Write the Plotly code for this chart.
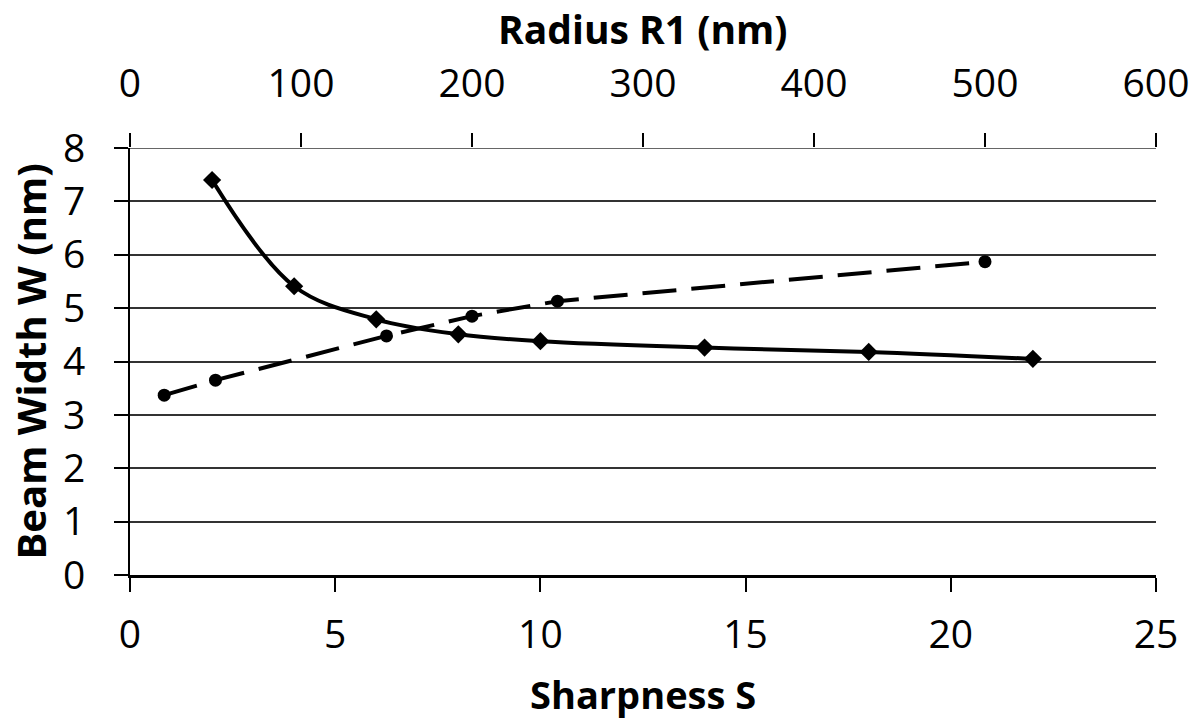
import plotly.graph_objects as go

# Data
sharpness = [2, 4, 6, 8, 10, 14, 18, 22]
width_vs_sharpness = [7.40, 5.41, 4.79, 4.51, 4.38, 4.26, 4.18, 4.05]

radius = [20, 50, 150, 200, 250, 500]
width_vs_radius = [3.37, 3.65, 4.48, 4.85, 5.13, 5.87]

x_ticks = [0, 5, 10, 15, 20, 25]
x2_ticks = [0, 100, 200, 300, 400, 500, 600]
y_ticks = [0, 1, 2, 3, 4, 5, 6, 7, 8]

FONT = "Open Sans, Liberation Sans, sans-serif"

fig = go.Figure()
fig.add_trace(go.Scatter(
    x=sharpness, y=width_vs_sharpness, mode="lines+markers",
    line=dict(color="black", width=4, shape="spline", smoothing=1.0),
    marker=dict(symbol="diamond", size=14, color="black"),
    xaxis="x", yaxis="y", showlegend=False))
fig.add_trace(go.Scatter(
    x=radius, y=width_vs_radius, mode="lines+markers",
    line=dict(color="black", width=4, dash="34px,15px"),
    marker=dict(symbol="circle", size=13, color="black"),
    xaxis="x2", yaxis="y", showlegend=False))

tickfont = dict(family=FONT, size=39, color="black")
fig.update_layout(
    width=1203, height=722,
    margin=dict(l=130, r=47, t=148, b=147),
    paper_bgcolor="white", plot_bgcolor="white",
    xaxis=dict(range=[0, 25], tickvals=x_ticks, ticks="outside", ticklen=14,
               tickwidth=1.5, tickcolor="black", showgrid=False, zeroline=False,
               showline=True, linecolor="black", linewidth=2.5,
               tickfont=tickfont, ticklabelstandoff=9),
    xaxis2=dict(range=[0, 600], tickvals=x2_ticks, overlaying="x", side="top",
                ticks="outside", ticklen=14, tickwidth=1.5, tickcolor="black",
                showgrid=False, zeroline=False, showline=False,
                tickfont=tickfont, ticklabelstandoff=20),
    yaxis=dict(range=[0, 8], tickvals=y_ticks, ticks="outside", ticklen=14,
               tickwidth=1.5, tickcolor="black", showgrid=True,
               gridcolor="#333333", gridwidth=1.5, zeroline=False,
               showline=True, linecolor="black", linewidth=2,
               tickfont=tickfont, ticklabelstandoff=21),
    annotations=[
        dict(text="<b>Radius R1 (nm)</b>", xref="paper", yref="paper",
             x=0.5, y=1, yshift=120, yanchor="middle", xanchor="center",
             showarrow=False, font=dict(family=FONT, size=39, color="black")),
        dict(text="<b>Sharpness S</b>", xref="paper", yref="paper",
             x=0.5, y=0, yshift=-119, yanchor="middle", xanchor="center",
             showarrow=False, font=dict(family=FONT, size=38, color="black")),
        dict(text="<b>Beam Width W (nm)</b>", xref="paper", yref="paper",
             x=0, xshift=-100, y=0.5, yanchor="middle", xanchor="center",
             textangle=-90, showarrow=False,
             font=dict(family=FONT, size=40, color="black")),
    ],
)
# top boundary gridline at y=8
fig.add_shape(type="line", xref="paper", yref="y", x0=0, x1=1, y0=8, y1=8,
              line=dict(color="#333333", width=1.5))

fig.write_html("out.html")
